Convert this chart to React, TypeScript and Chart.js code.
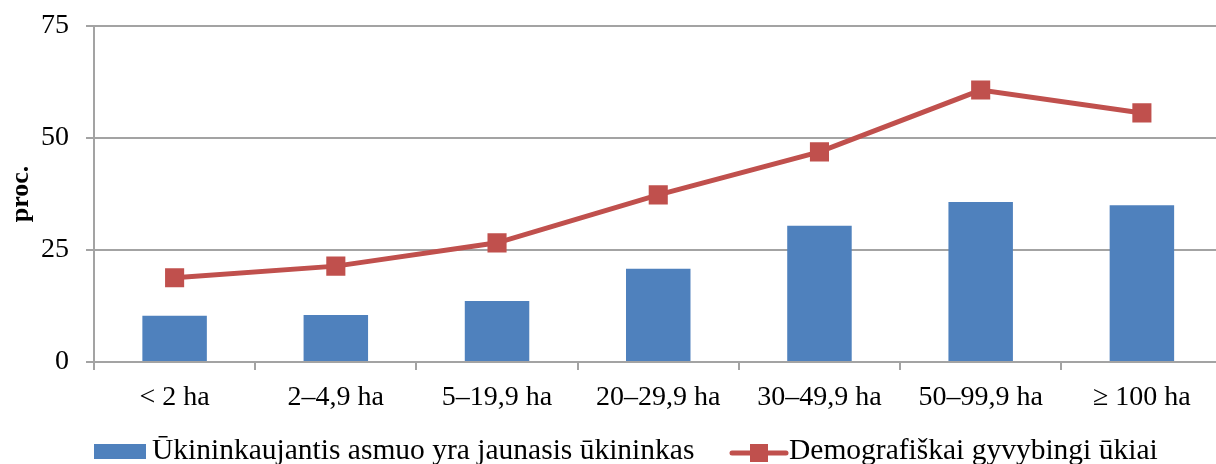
import React, { useEffect, useRef } from "react";
import { Chart, registerables } from "chart.js";

Chart.register(...registerables);

const categories = ["< 2 ha", "2–4,9 ha", "5–19,9 ha", "20–29,9 ha", "30–49,9 ha", "50–99,9 ha", "≥ 100 ha"];
const youngFarmer = [10.3, 10.5, 13.6, 20.8, 30.4, 35.7, 35.0];
const viableFarms = [18.8, 21.4, 26.6, 37.3, 46.9, 60.7, 55.6];
const yTicks = [0, 25, 50, 75];
const seriesNames = ["Ūkininkaujantis asmuo yra jaunasis ūkininkas", "Demografiškai gyvybingi ūkiai"];

const BLUE = "#4F81BD";
const RED = "#C0504D";
const GRID = "#a3a3a3";
const FONT = "'Liberation Serif', serif";

const legendPlugin = {
  id: "customLegend",
  afterDraw(chart: any) {
    const ctx = chart.ctx;
    const left = chart.chartArea.left;
    ctx.save();
    ctx.font = `29.5px ${FONT}`;
    ctx.textBaseline = "alphabetic";
    ctx.textAlign = "left";
    // bar item
    ctx.fillStyle = BLUE;
    ctx.fillRect(left, 444, 52, 15);
    ctx.fillStyle = "#000";
    ctx.fillText(seriesNames[0], left + 58, 459);
    // line item
    const lx = 732;
    ctx.strokeStyle = RED;
    ctx.lineWidth = 5;
    ctx.lineCap = "round";
    ctx.beginPath();
    ctx.moveTo(lx, 453);
    ctx.lineTo(lx + 54, 453);
    ctx.stroke();
    ctx.fillStyle = RED;
    ctx.fillRect(lx + 18, 444, 18, 18);
    ctx.fillStyle = "#000";
    ctx.fillText(seriesNames[1], lx + 57, 459);
    ctx.restore();
  },
};

export default function App() {
  const ref = useRef<HTMLCanvasElement>(null);
  useEffect(() => {
    if (!ref.current) return;
    const chart = new Chart(ref.current, {
      type: "bar",
      data: {
        labels: categories,
        datasets: [
          {
            type: "bar",
            label: seriesNames[0],
            data: youngFarmer,
            backgroundColor: BLUE,
            borderWidth: 0,
            barPercentage: 0.8,
            categoryPercentage: 0.5,
            order: 2,
          },
          {
            type: "line",
            label: seriesNames[1],
            data: viableFarms,
            borderColor: RED,
            borderWidth: 5,
            backgroundColor: RED,
            pointStyle: "rect",
            pointRadius: 13.5,
            pointBackgroundColor: RED,
            pointBorderWidth: 0,
            tension: 0,
            order: 1,
          } as any,
        ],
      },
      options: {
        responsive: false,
        animation: false,
        devicePixelRatio: 1,
        layout: { padding: { left: 0, right: 2, top: 26, bottom: 0 } },
        plugins: {
          legend: { display: false },
          tooltip: { enabled: false },
        },
        scales: {
          x: {
            offset: true,
            grid: { drawOnChartArea: false, drawTicks: true, tickLength: 8, color: GRID, lineWidth: 2, offset: true },
            border: { display: true, color: GRID, width: 2 },
            ticks: { font: { family: FONT, size: 28 }, color: "#000", padding: 11, maxRotation: 0, autoSkip: false },
            afterFit: (s: any) => {
              s.height = 102;
              s.paddingLeft = 0;
              s.paddingRight = 0;
            },
          },
          y: {
            min: 0,
            max: 75,
            afterBuildTicks: (s: any) => {
              s.ticks = yTicks.map((v) => ({ value: v }));
            },
            grid: { color: GRID, lineWidth: 2, tickLength: 8, drawTicks: true },
            border: { display: true, color: GRID, width: 2 },
            ticks: { font: { family: FONT, size: 28 }, color: "#000", padding: 17 },
            title: {
              display: true,
              text: "proc.",
              font: { family: FONT, size: 26, weight: "bold" },
              color: "#000",
              padding: { top: 6, bottom: 0 },
            },
            afterFit: (s: any) => {
              s.width = 94;
              s.paddingTop = 0;
              s.paddingBottom = 0;
            },
          },
        },
      },
      plugins: [legendPlugin],
    });
    return () => chart.destroy();
  }, []);
  return (
    <div style={{ position: "fixed", left: 0, top: 0, width: 1216, height: 464, overflow: "hidden", background: "#fff" }}>
      <canvas ref={ref} width={1236} height={464} style={{ display: "block", width: 1236, height: 464 }} />
    </div>
  );
}
